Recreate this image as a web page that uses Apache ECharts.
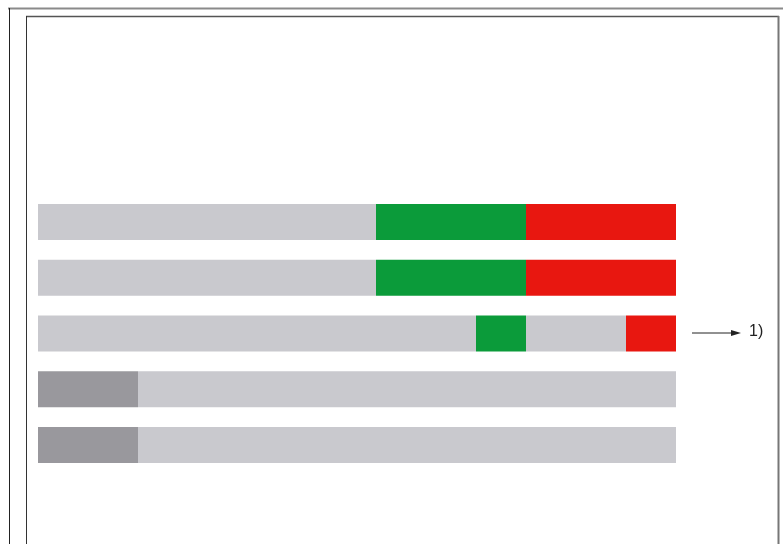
<!DOCTYPE html>
<html>
<head>
<meta charset="utf-8">
<script src="https://cdn.jsdelivr.net/npm/echarts@6/dist/echarts.min.js"></script>
<style>
  html, body { margin: 0; padding: 0; background: #ffffff; }
  #chart { width: 783px; height: 544px; }
</style>
</head>
<body>
<div id="chart"></div>
<script>
// Row categories (top to bottom)
const categories = ['A', 'B', 'C', 'D', 'E'];
// Segment lengths per row, stacked left to right
const segment1 = [338, 338, 438, 100, 100];
const segment2 = [150, 150, 50, 538, 538];
const segment3 = [150, 150, 100, 0, 0];
const segment4 = [0, 0, 50, 0, 0];
// Kind of each segment per row
const kind1 = ['base', 'base', 'base', 'dark', 'dark'];
const kind2 = ['green', 'green', 'green', 'base', 'base'];
const kind3 = ['red', 'red', 'base', 'base', 'base'];
const kind4 = ['red', 'red', 'red', 'red', 'red'];
const noteLabel = '1)';

const palette = {
  base: '#c9c9ce',
  dark: '#99989d',
  green: '#0b9b3a',
  red: '#e81710'
};

function makeSeries(name, values, kinds) {
  return {
    name: name,
    type: 'bar',
    stack: 'total',
    barWidth: 36,
    silent: true,
    data: values.map((v, i) => ({
      value: v,
      itemStyle: { color: palette[kinds[i]] }
    }))
  };
}

const chart = echarts.init(document.getElementById('chart'), null, { renderer: 'canvas' });
chart.setOption({
  animation: false,
  backgroundColor: '#ffffff',
  grid: { left: 38, width: 638, top: 194, height: 279 },
  xAxis: {
    type: 'value', min: 0, max: 638,
    show: false
  },
  yAxis: {
    type: 'category', data: categories, inverse: true,
    show: false
  },
  series: [
    makeSeries('s1', segment1, kind1),
    makeSeries('s2', segment2, kind2),
    makeSeries('s3', segment3, kind3),
    makeSeries('s4', segment4, kind4)
  ],
  graphic: [
    // outer frame
    { type: 'line', shape: { x1: 8, y1: 8.5, x2: 783, y2: 8.5 }, style: { stroke: '#8a8a8a', lineWidth: 2 } },
    { type: 'line', shape: { x1: 9.5, y1: 8, x2: 9.5, y2: 544 }, style: { stroke: '#222', lineWidth: 1 } },
    // inner frame
    { type: 'line', shape: { x1: 26, y1: 16.5, x2: 779, y2: 16.5 }, style: { stroke: '#555', lineWidth: 1.5 } },
    { type: 'line', shape: { x1: 26.5, y1: 16, x2: 26.5, y2: 544 }, style: { stroke: '#333', lineWidth: 1 } },
    { type: 'line', shape: { x1: 778.5, y1: 16, x2: 778.5, y2: 544 }, style: { stroke: '#777', lineWidth: 2 } },
    // arrow annotation
    { type: 'line', shape: { x1: 692, y1: 333, x2: 733, y2: 333 }, style: { stroke: '#222', lineWidth: 1 } },
    { type: 'polygon', shape: { points: [[731, 330], [741, 333], [731, 336]] }, style: { fill: '#222' } },
    { type: 'text', left: 749, top: 324, style: { text: noteLabel, fill: '#222', font: '16px "Liberation Sans", Arial, sans-serif' } }
  ]
});
</script>
</body>
</html>
